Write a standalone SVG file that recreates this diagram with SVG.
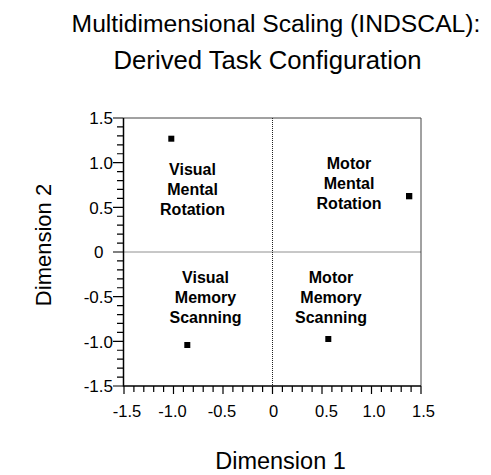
<svg xmlns="http://www.w3.org/2000/svg" width="491" height="475" viewBox="0 0 491 475">
<style>
text{font-family:"Liberation Sans",Arial,sans-serif;fill:#000}
.title{font-size:24.7px;text-anchor:middle}
.dim{font-size:22px;text-anchor:middle}
.ty{font-size:17px;text-anchor:end}
.tx{font-size:16.5px;text-anchor:middle}
.lbl{font-size:16px;font-weight:bold;text-anchor:middle}
.axis{stroke:#000;stroke-width:1.5;fill:none}
.tick{stroke:#000;stroke-width:1.2;fill:none}
.frame{stroke:#444;stroke-width:1;fill:none}
.dot{stroke:#222;stroke-width:1;stroke-dasharray:1 1;fill:none}
.pt{fill:#000}
</style>
<rect width="491" height="475" fill="#fff"/>
<text class="title" x="276" y="32">Multidimensional Scaling (INDSCAL):</text>
<text class="title" x="267.5" y="69" style="font-size:25.7px">Derived Task Configuration</text>
<text class="dim" transform="translate(51,245) rotate(-90)">Dimension 2</text>
<text class="dim" x="280.5" y="469" style="font-size:23.5px">Dimension 1</text>
<g id="axes">
<path class="frame" d="M123.5,118 H421 V386"/>
<path class="dot" d="M272.5,118 V386 M123.5,252 H421"/>
<path class="axis" d="M123.5,118 V386 H421"/>
<path class="tick" d="M113,118H123.5 M117,126.93H123.5 M117,135.87H123.5 M117,144.8H123.5 M117,153.73H123.5 M113,162.67H123.5 M117,171.6H123.5 M117,180.53H123.5 M117,189.47H123.5 M117,198.4H123.5 M113,207.33H123.5 M117,216.27H123.5 M117,225.2H123.5 M117,234.13H123.5 M117,243.07H123.5 M113,252H123.5 M117,260.93H123.5 M117,269.87H123.5 M117,278.8H123.5 M117,287.73H123.5 M113,296.67H123.5 M117,305.6H123.5 M117,314.53H123.5 M117,323.47H123.5 M117,332.4H123.5 M113,341.33H123.5 M117,350.27H123.5 M117,359.2H123.5 M117,368.13H123.5 M117,377.07H123.5 M113,386H123.5"/>
<path class="tick" d="M124,386V394 M133.9,386V392 M143.8,386V392 M153.7,386V392 M163.6,386V392 M173.5,386V394 M183.4,386V392 M193.3,386V392 M203.2,386V392 M213.1,386V392 M223,386V394 M232.9,386V392 M242.8,386V392 M252.7,386V392 M262.6,386V392 M272.5,386V394 M282.4,386V392 M292.3,386V392 M302.2,386V392 M312.1,386V392 M322,386V394 M331.9,386V392 M341.8,386V392 M351.7,386V392 M361.6,386V392 M371.5,386V394 M381.4,386V392 M391.3,386V392 M401.2,386V392 M411.1,386V392 M421,386V394"/>
<text class="ty" x="113" y="124">1.5</text>
<text class="ty" x="113" y="168.5">1.0</text>
<text class="ty" x="113" y="213.5">0.5</text>
<text class="ty" x="103.5" y="258">0</text>
<text class="ty" x="113" y="302.5">-0.5</text>
<text class="ty" x="113" y="347.5">-1.0</text>
<text class="ty" x="113" y="392">-1.5</text>
<text class="tx" x="127" y="416.5">-1.5</text>
<text class="tx" x="172.5" y="416.5">-1.0</text>
<text class="tx" x="222" y="416.5">-0.5</text>
<text class="tx" x="273.5" y="416.5">0</text>
<text class="tx" x="326.5" y="416.5">0.5</text>
<text class="tx" x="374" y="416.5">1.0</text>
<text class="tx" x="423.5" y="416.5">1.5</text>
</g>
<g id="visual-mental-rotation">
<rect class="pt" x="168.3" y="135.7" width="6" height="6"/>
<text class="lbl" x="192.5" y="174.5">Visual</text>
<text class="lbl" x="192.5" y="194.8">Mental</text>
<text class="lbl" x="192.5" y="215">Rotation</text>
</g>
<g id="motor-mental-rotation">
<rect class="pt" x="406" y="193" width="6.3" height="6.3"/>
<text class="lbl" x="349" y="169">Motor</text>
<text class="lbl" x="349" y="189">Mental</text>
<text class="lbl" x="349" y="209">Rotation</text>
</g>
<g id="visual-memory-scanning">
<rect class="pt" x="184.3" y="342" width="6" height="6"/>
<text class="lbl" x="205.5" y="283">Visual</text>
<text class="lbl" x="205.5" y="303">Memory</text>
<text class="lbl" x="205.5" y="322.5">Scanning</text>
</g>
<g id="motor-memory-scanning">
<rect class="pt" x="325.3" y="336" width="6" height="6"/>
<text class="lbl" x="331" y="283">Motor</text>
<text class="lbl" x="331" y="303">Memory</text>
<text class="lbl" x="331" y="322.5">Scanning</text>
</g>
</svg>
